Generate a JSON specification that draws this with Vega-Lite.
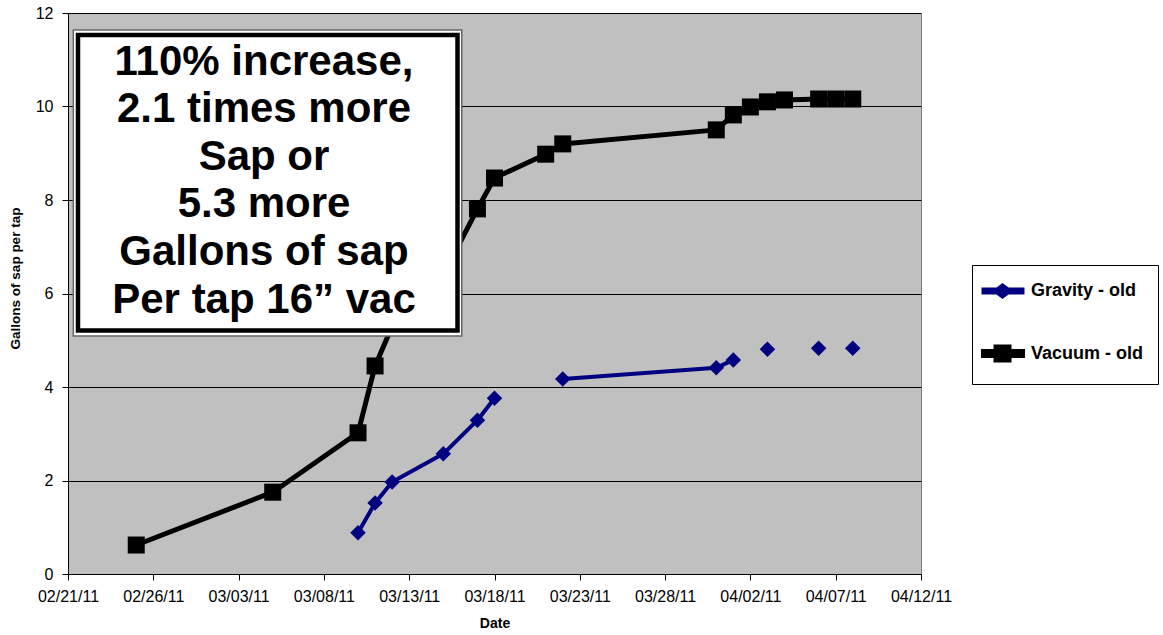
{
  "$schema": "https://vega.github.io/schema/vega-lite/v6.json",
  "autosize": "none",
  "width": 853,
  "height": 561,
  "padding": {"left": 68, "top": 13, "right": 242, "bottom": 61},
  "background": "white",
  "config": {
    "font": "Liberation Sans",
    "view": {"fill": "#C0C0C0", "stroke": "#808080", "strokeWidth": 1}
  },
  "data": {
    "values": [
      {"date": "2011-02-25T00:00:00", "series": "Vacuum - old", "seg": "v1", "value": 0.62},
      {"date": "2011-03-05T00:00:00", "series": "Vacuum - old", "seg": "v1", "value": 1.75},
      {"date": "2011-03-10T00:00:00", "series": "Vacuum - old", "seg": "v1", "value": 3.02},
      {"date": "2011-03-11T00:00:00", "series": "Vacuum - old", "seg": "v1", "value": 4.45},
      {"date": "2011-03-12T00:00:00", "series": "Vacuum - old", "seg": "v1", "value": 5.3},
      {"date": "2011-03-15T00:00:00", "series": "Vacuum - old", "seg": "v1", "value": 6.4},
      {"date": "2011-03-17T00:00:00", "series": "Vacuum - old", "seg": "v1", "value": 7.81},
      {"date": "2011-03-18T00:00:00", "series": "Vacuum - old", "seg": "v1", "value": 8.47},
      {"date": "2011-03-21T00:00:00", "series": "Vacuum - old", "seg": "v1", "value": 8.98},
      {"date": "2011-03-22T00:00:00", "series": "Vacuum - old", "seg": "v1", "value": 9.2},
      {"date": "2011-03-31T00:00:00", "series": "Vacuum - old", "seg": "v1", "value": 9.5},
      {"date": "2011-04-01T00:00:00", "series": "Vacuum - old", "seg": "v1", "value": 9.82},
      {"date": "2011-04-02T00:00:00", "series": "Vacuum - old", "seg": "v1", "value": 9.99},
      {"date": "2011-04-03T00:00:00", "series": "Vacuum - old", "seg": "v1", "value": 10.1},
      {"date": "2011-04-04T00:00:00", "series": "Vacuum - old", "seg": "v1", "value": 10.14},
      {"date": "2011-04-06T00:00:00", "series": "Vacuum - old", "seg": "v1", "value": 10.16},
      {"date": "2011-04-07T00:00:00", "series": "Vacuum - old", "seg": "v1", "value": 10.16},
      {"date": "2011-04-08T00:00:00", "series": "Vacuum - old", "seg": "v1", "value": 10.16},
      {"date": "2011-03-10T00:00:00", "series": "Gravity - old", "seg": "g1", "value": 0.88},
      {"date": "2011-03-11T00:00:00", "series": "Gravity - old", "seg": "g1", "value": 1.52},
      {"date": "2011-03-12T00:00:00", "series": "Gravity - old", "seg": "g1", "value": 1.97},
      {"date": "2011-03-15T00:00:00", "series": "Gravity - old", "seg": "g1", "value": 2.57},
      {"date": "2011-03-17T00:00:00", "series": "Gravity - old", "seg": "g1", "value": 3.29},
      {"date": "2011-03-18T00:00:00", "series": "Gravity - old", "seg": "g1", "value": 3.76},
      {"date": "2011-03-22T00:00:00", "series": "Gravity - old", "seg": "g2", "value": 4.17},
      {"date": "2011-03-31T00:00:00", "series": "Gravity - old", "seg": "g2", "value": 4.41},
      {"date": "2011-04-01T00:00:00", "series": "Gravity - old", "seg": "g2", "value": 4.58},
      {"date": "2011-04-03T00:00:00", "series": "Gravity - old", "seg": "g3", "value": 4.81},
      {"date": "2011-04-06T00:00:00", "series": "Gravity - old", "seg": "g4", "value": 4.83},
      {"date": "2011-04-08T00:00:00", "series": "Gravity - old", "seg": "g5", "value": 4.83}
    ]
  },
  "encoding": {
    "x": {
      "field": "date",
      "type": "temporal",
      "scale": {"domain": [{"year": 2011, "month": 2, "date": 21}, {"year": 2011, "month": 4, "date": 12}]},
      "axis": {
        "title": "Date",
        "titleFont": "Liberation Sans",
        "titleFontSize": 14,
        "titleFontWeight": "bold",
        "titleColor": "black",
        "titlePadding": 12,
        "values": [
          {"year": 2011, "month": 2, "date": 21},
          {"year": 2011, "month": 2, "date": 26},
          {"year": 2011, "month": 3, "date": 3},
          {"year": 2011, "month": 3, "date": 8},
          {"year": 2011, "month": 3, "date": 13},
          {"year": 2011, "month": 3, "date": 18},
          {"year": 2011, "month": 3, "date": 23},
          {"year": 2011, "month": 3, "date": 28},
          {"year": 2011, "month": 4, "date": 2},
          {"year": 2011, "month": 4, "date": 7},
          {"year": 2011, "month": 4, "date": 12}
        ],
        "format": "%m/%d/%y",
        "labelFontSize": 16,
        "labelColor": "black",
        "labelPadding": 8,
        "labelOverlap": false,
        "labelFlush": false,
        "tickSize": 6,
        "tickColor": "black",
        "domainColor": "black",
        "grid": false
      }
    },
    "y": {
      "field": "value",
      "type": "quantitative",
      "scale": {"domain": [0, 12], "nice": false, "zero": true},
      "axis": {
        "title": "Gallons of sap per tap",
        "titleFont": "Liberation Sans",
        "titleFontSize": 13.5,
        "titleFontWeight": "bold",
        "titleColor": "black",
        "titlePadding": 13,
        "titleY": 265,
        "values": [0, 2, 4, 6, 8, 10, 12],
        "labelFontSize": 16,
        "labelColor": "black",
        "labelPadding": 9,
        "tickSize": 6,
        "tickColor": "black",
        "domainColor": "black",
        "grid": true,
        "gridColor": "#000000",
        "gridWidth": 1
      }
    }
  },
  "layer": [
    {
      "mark": {"type": "line", "strokeJoin": "round", "strokeCap": "round"},
      "encoding": {
        "detail": {"field": "seg"},
        "strokeWidth": {"field": "series", "type": "nominal", "scale": {"domain": ["Gravity - old", "Vacuum - old"], "range": [4, 5]}, "legend": null},
        "color": {
          "field": "series",
          "type": "nominal",
          "scale": {"domain": ["Gravity - old", "Vacuum - old"], "range": ["#000080", "#000000"]},
          "legend": {
            "orient": "none",
            "legendX": 904,
            "legendY": 252,
            "title": null,
            "direction": "vertical",
            "fillColor": "white",
            "strokeColor": "black",
            "padding": 14,
            "rowPadding": 32,
            "labelFont": "Liberation Sans",
            "labelFontWeight": "bold",
            "labelFontSize": 18,
            "labelColor": "black",
            "labelOffset": 20,
            "symbolSize": 400,
            "encode": {
              "symbols": {
                "update": {
                  "shape": {"signal": "datum.value === 'Gravity - old' ? 'M-1.5,-0.15H2.4V0.15H-1.5Z M-0.35,0L0.4,-0.55L1.15,0L0.4,0.55Z' : 'M-1.5,-0.2H2.4V0.2H-1.5Z M-0.25,-0.65H1.05V0.65H-0.25Z'"},
                  "fill": {"signal": "datum.value === 'Gravity - old' ? '#000080' : '#000000'"},
                  "fillOpacity": {"value": 1},
                  "strokeWidth": {"value": 0},
                  "size": {"value": 400}
                }
              }
            }
          }
        }
      }
    },
    {
      "transform": [{"filter": "datum.series === 'Gravity - old'"}],
      "mark": {"type": "point", "filled": true, "opacity": 1, "shape": "diamond", "size": 240},
      "encoding": {
        "color": {"field": "series", "type": "nominal"}
      }
    },
    {
      "transform": [{"filter": "datum.series === 'Vacuum - old'"}],
      "mark": {"type": "point", "filled": true, "opacity": 1, "shape": "square", "size": 289},
      "encoding": {
        "color": {"field": "series", "type": "nominal"}
      }
    },
    {
      "transform": [{"filter": "datum.seg === 'g3'"}],
      "mark": {"type": "rect", "fill": "white", "stroke": "#666666", "strokeWidth": 1.5},
      "encoding": {
        "x": {"datum": {"year": 2011, "month": 2, "date": 21, "hours": 7, "minutes": 28}, "type": "temporal"},
        "x2": {"datum": {"year": 2011, "month": 3, "date": 16, "hours": 1, "minutes": 55}},
        "y": {"datum": 11.636, "type": "quantitative"},
        "y2": {"datum": 5.091}
      }
    },
    {
      "transform": [{"filter": "datum.seg === 'g3'"}],
      "mark": {"type": "rect", "fill": "white", "stroke": "black", "strokeWidth": 4.5},
      "encoding": {
        "x": {"datum": {"year": 2011, "month": 2, "date": 21, "hours": 14, "minutes": 4}, "type": "temporal"},
        "x2": {"datum": {"year": 2011, "month": 3, "date": 15, "hours": 19, "minutes": 56}},
        "y": {"datum": 11.53, "type": "quantitative"},
        "y2": {"datum": 5.21}
      }
    },
    {
      "transform": [{"filter": "datum.seg === 'g3'"}],
      "mark": {
        "type": "text",
        "text": ["110% increase,", "2.1 times more", "Sap or", "5.3 more", "Gallons of sap", "Per tap  16” vac"],
        "font": "Liberation Sans",
        "fontWeight": "bold",
        "fontSize": 42,
        "lineHeight": 47.6,
        "align": "center",
        "baseline": "middle",
        "fill": "black"
      },
      "encoding": {
        "x": {"datum": {"year": 2011, "month": 3, "date": 4, "hours": 11, "minutes": 44}, "type": "temporal"},
        "y": {"datum": 10.96, "type": "quantitative"}
      }
    }
  ]
}
